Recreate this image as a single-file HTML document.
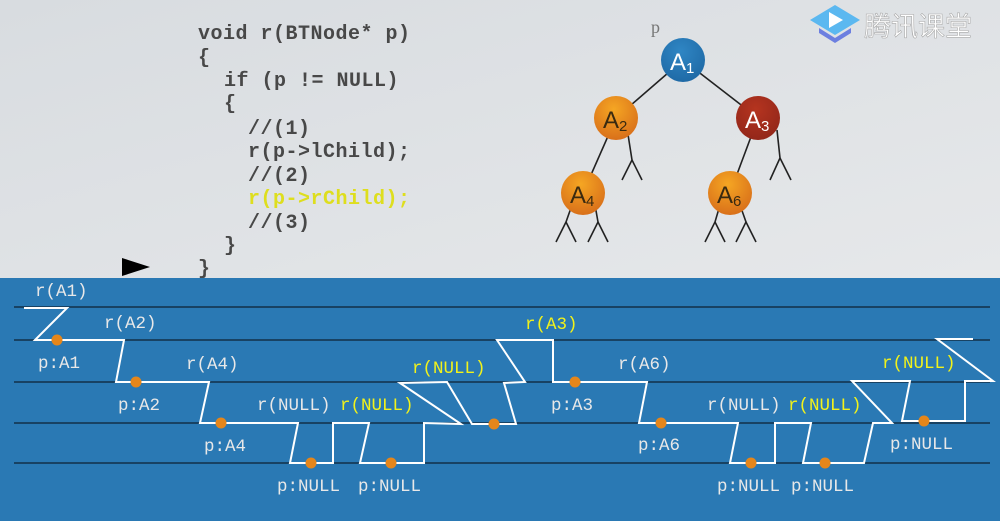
<!DOCTYPE html>
<html><head><meta charset="utf-8"><style>
html,body{margin:0;padding:0;width:1000px;height:521px;overflow:hidden;background:#dfe2e5}
svg{display:block}
.code{font-family:"Liberation Mono",monospace;font-weight:bold;font-size:20px;letter-spacing:0.5px;fill:#484848}
.lab{font-family:"Liberation Mono",monospace;font-size:17.5px;fill:#e8e8e8}
.y{fill:#f2f21a}
.nd{font-family:"Liberation Sans",sans-serif;fill:#fff;font-size:24px}
.sub{font-size:15px}
</style></head><body>
<svg width="1000" height="521" viewBox="0 0 1000 521" xmlns="http://www.w3.org/2000/svg">
<defs>
<linearGradient id="bg" x1="0" y1="0" x2="1" y2="1">
<stop offset="0" stop-color="#d8dce0"/><stop offset="1" stop-color="#e6e8ea"/></linearGradient>
<radialGradient id="or" cx="0.45" cy="0.3" r="0.7"><stop offset="0" stop-color="#f5a623"/><stop offset="1" stop-color="#d9701a"/></radialGradient>
<radialGradient id="bl" cx="0.45" cy="0.3" r="0.7"><stop offset="0" stop-color="#2f86c4"/><stop offset="1" stop-color="#1f6aa6"/></radialGradient>
<radialGradient id="rd" cx="0.45" cy="0.3" r="0.7"><stop offset="0" stop-color="#b5341f"/><stop offset="1" stop-color="#93271a"/></radialGradient>
</defs>
<rect width="1000" height="278" fill="url(#bg)"/>
<g class="code">
<text x="198" y="39">void r(BTNode* p)</text>
<text x="198" y="63">{</text>
<text x="224" y="86">if (p != NULL)</text>
<text x="224" y="109">{</text>
<text x="248" y="134">//(1)</text>
<text x="248" y="157">r(p-&gt;lChild);</text>
<text x="248" y="181">//(2)</text>
<text x="248" y="204" style="fill:#dede1e">r(p-&gt;rChild);</text>
<text x="248" y="228">//(3)</text>
<text x="224" y="251">}</text>
<text x="198" y="274">}</text>
</g>
<polygon points="122,258 150,267 122,276" fill="#000"/>
<g stroke="#222" stroke-width="1.6" fill="none">
<line x1="683" y1="60" x2="616" y2="118"/><line x1="683" y1="60" x2="758" y2="118"/>
<line x1="616" y1="118" x2="583" y2="193"/><line x1="758" y1="118" x2="730" y2="193"/>
<polyline points="627,128 632,160 622,180"/><line x1="632" y1="160" x2="642" y2="180"/>
<polyline points="777,130 780,158 770,180"/><line x1="780" y1="158" x2="791" y2="180"/>
<polyline points="572,205 566,222 556,242"/><line x1="566" y1="222" x2="576" y2="242"/>
<polyline points="595,205 598,222 588,242"/><line x1="598" y1="222" x2="608" y2="242"/>
<polyline points="720,205 715,222 705,242"/><line x1="715" y1="222" x2="725" y2="242"/>
<polyline points="740,205 746,222 736,242"/><line x1="746" y1="222" x2="756" y2="242"/>
</g>
<text x="651" y="33" font-family="Liberation Serif,serif" font-size="18" fill="#777">p</text>
<circle cx="683" cy="60" r="22" fill="url(#bl)"/>
<circle cx="616" cy="118" r="22" fill="url(#or)"/>
<circle cx="758" cy="118" r="22" fill="url(#rd)"/>
<circle cx="583" cy="193" r="22" fill="url(#or)"/>
<circle cx="730" cy="193" r="22" fill="url(#or)"/>
<text class="nd" x="670" y="70">A<tspan class="sub" dy="3">1</tspan></text>
<text class="nd" x="603" y="128" style="fill:#3a2a10">A<tspan class="sub" dy="3">2</tspan></text>
<text class="nd" x="745" y="128">A<tspan class="sub" dy="3">3</tspan></text>
<text class="nd" x="570" y="203" style="fill:#3a2a10">A<tspan class="sub" dy="3">4</tspan></text>
<text class="nd" x="717" y="203" style="fill:#3a2a10">A<tspan class="sub" dy="3">6</tspan></text>
<polygon points="810,20 835,5 860,20 835,35" fill="#5bb8f0"/>
<polygon points="819,28 835,38 851,28 851,33 835,43 819,33" fill="#6c7fe0"/>
<polygon points="829,12 843,20 829,28" fill="#fff"/>
<text x="864" y="36" font-family="'Noto Sans CJK SC',sans-serif" font-size="27" fill="#fff" stroke="#aaa" stroke-width="0.6">腾讯课堂</text>
<rect y="278" width="1000" height="243" fill="#2a79b4"/>
<g stroke="#0d2233" stroke-width="1.3">
<line x1="14" y1="307" x2="990" y2="307"/><line x1="14" y1="340" x2="990" y2="340"/>
<line x1="14" y1="382" x2="990" y2="382"/><line x1="14" y1="423" x2="990" y2="423"/>
<line x1="14" y1="463" x2="990" y2="463"/>
</g>
<g stroke="#fff" stroke-width="2" fill="none">
<polyline points="24,308 67,308 35,340 124,340 116,382 209,382 200,423 298,423 290,463 333,463 333,423 369,423 360,463 424,463 424,423 461,424 400,383 447,382 472,424 516,424 504,383 525,382 497,340 553,340 553,382 647,382 639,423 738,423 730,463 775,463 775,423 811,423 803,463 864,463 873,423 892,423 852,381 910,381 902,421 965,421 965,381 993,381 937,339 973,339"/>
</g>
<g fill="#e5861a">
<circle cx="57" cy="340" r="5.5"/><circle cx="136" cy="382" r="5.5"/><circle cx="221" cy="423" r="5.5"/>
<circle cx="311" cy="463" r="5.5"/><circle cx="391" cy="463" r="5.5"/><circle cx="494" cy="424" r="5.5"/>
<circle cx="575" cy="382" r="5.5"/><circle cx="661" cy="423" r="5.5"/><circle cx="751" cy="463" r="5.5"/>
<circle cx="825" cy="463" r="5.5"/><circle cx="924" cy="421" r="5.5"/>
</g>
<g class="lab">
<text x="35" y="296">r(A1)</text>
<text x="104" y="328">r(A2)</text>
<text x="38" y="368">p:A1</text>
<text x="186" y="369">r(A4)</text>
<text x="118" y="410">p:A2</text>
<text x="257" y="410">r(NULL)</text>
<text x="204" y="451">p:A4</text>
<text x="277" y="491">p:NULL</text>
<text x="358" y="491">p:NULL</text>
<text x="551" y="410">p:A3</text>
<text x="618" y="369">r(A6)</text>
<text x="638" y="450">p:A6</text>
<text x="707" y="410">r(NULL)</text>
<text x="717" y="491">p:NULL</text>
<text x="791" y="491">p:NULL</text>
<text x="890" y="449">p:NULL</text>
</g>
<g class="lab y">
<text x="340" y="410">r(NULL)</text>
<text x="412" y="373">r(NULL)</text>
<text x="525" y="329">r(A3)</text>
<text x="788" y="410">r(NULL)</text>
<text x="882" y="368">r(NULL)</text>
</g>
</svg>
</body></html>
